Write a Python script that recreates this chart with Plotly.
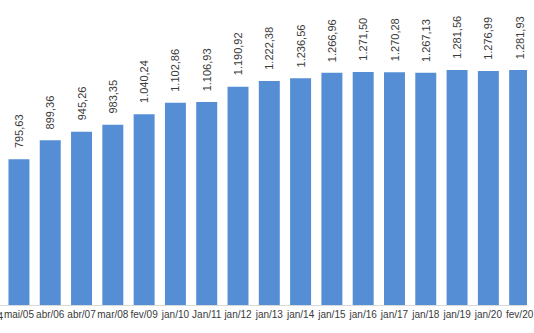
import plotly.graph_objects as go

# Minimum wage in real terms, by adjustment date
categories = ["mai/04", "mai/05", "abr/06", "abr/07", "mar/08", "fev/09", "jan/10",
              "Jan/11", "jan/12", "jan/13", "jan/14", "jan/15", "jan/16", "jan/17",
              "jan/18", "jan/19", "jan/20", "fev/20"]
values = [None, 795.63, 899.36, 945.26, 983.35, 1040.24, 1102.86, 1106.93, 1190.92,
          1222.38, 1236.56, 1266.96, 1271.50, 1270.28, 1267.13, 1281.56, 1276.99, 1281.93]

BAR_COLOR = "#558ED5"
TEXT_COLOR = "#3A3A3A"
FONT = "Liberation Sans, Arial, sans-serif"

X_RANGE = [0.3945, 17.2346]
Y_RANGE = [0, 1664]


def br_number(v):
    s = f"{v:,.2f}"
    return s.replace(",", "X").replace(".", ",").replace("X", ".")


fig = go.Figure(
    go.Bar(
        x=list(range(len(categories))),
        y=values,
        marker=dict(color=BAR_COLOR, line=dict(width=0)),
        hoverinfo="skip",
    )
)

# Vertical value labels above each bar
for i, v in enumerate(values):
    if v is None:
        continue
    fig.add_annotation(
        x=i, y=v, xref="x", yref="y",
        text=br_number(v), textangle=-90,
        showarrow=False, xanchor="center", yanchor="bottom", yshift=9,
        font=dict(family=FONT, size=11, color=TEXT_COLOR),
    )

# Label of the category that sits just left of the visible range
first_pos = (0 - X_RANGE[0]) / (X_RANGE[1] - X_RANGE[0])
fig.add_annotation(
    x=first_pos, y=0, xref="paper", yref="paper",
    text=categories[0], showarrow=False, xanchor="center", yanchor="top", yshift=-4,
    font=dict(family=FONT, size=10, color=TEXT_COLOR),
)

fig.update_layout(
    width=534, height=333,
    margin=dict(l=0, r=0, t=0, b=28),
    paper_bgcolor="white", plot_bgcolor="white",
    bargap=0.33,
    showlegend=False,
    xaxis=dict(
        tickmode="array",
        tickvals=list(range(len(categories))),
        ticktext=categories,
        range=X_RANGE,
        showline=True, linecolor="#D9D9D9", linewidth=1,
        showgrid=False, zeroline=False, ticks="",
        tickangle=0,
        ticklabeloverflow="allow",
        tickfont=dict(family=FONT, size=10, color=TEXT_COLOR),
    ),
    yaxis=dict(
        range=Y_RANGE, visible=False, showgrid=False, zeroline=False,
    ),
)

fig.write_html("out.html")
